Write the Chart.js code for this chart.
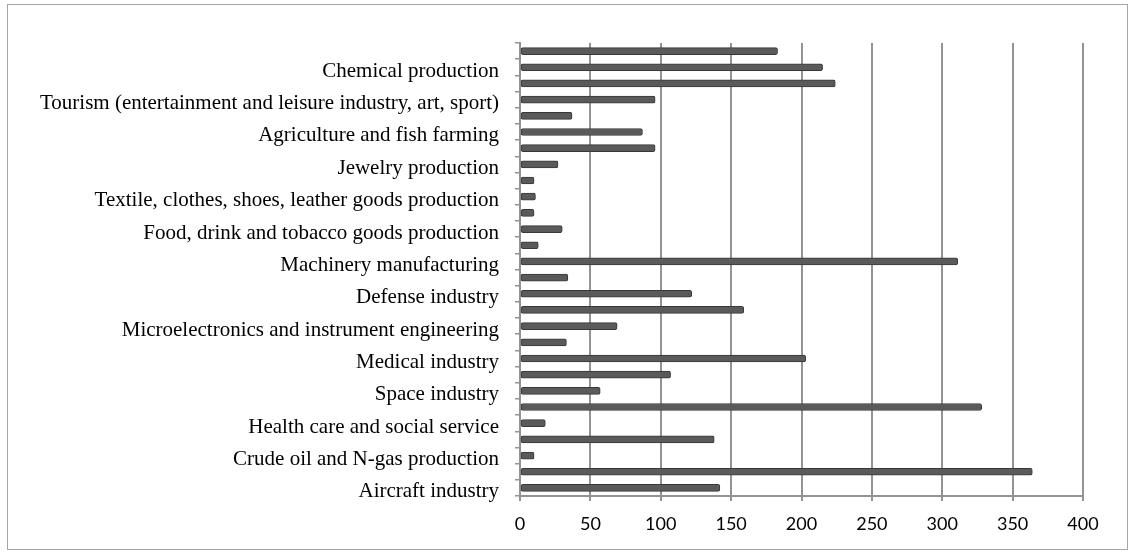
<!DOCTYPE html>
<html>
<head>
<meta charset="utf-8">
<script src="https://cdn.jsdelivr.net/npm/chart.js@4/dist/chart.umd.min.js"></script>
<style>
  html, body { margin: 0; padding: 0; background: #fff; }
  #wrap { position: relative; width: 1131px; height: 556px; }
  #frame { position: absolute; left: 7px; top: 4px; width: 1119px; height: 544px; border: 1px solid #a6a6a6; }
  #chart { position: absolute; left: 0; top: 0; }
</style>
</head>
<body>
<div id="wrap">
  <div id="frame"></div>
  <canvas id="chart" width="1131" height="556"></canvas>
</div>
<script>
// categories, top to bottom (only every other one carries a label)
const categories = [
  "", "Chemical production",
  "", "Tourism (entertainment and leisure industry, art, sport)",
  "", "Agriculture and fish farming",
  "", "Jewelry production",
  "", "Textile, clothes, shoes, leather goods production",
  "", "Food, drink and tobacco goods production",
  "", "Machinery manufacturing",
  "", "Defense industry",
  "", "Microelectronics and instrument engineering",
  "", "Medical industry",
  "", "Space industry",
  "", "Health care and social service",
  "", "Crude oil and N-gas production",
  "", "Aircraft industry"
];

const values = [
  183, 215,
  224, 96,
  37, 87,
  96, 27,
  10, 11,
  10, 30,
  13, 311,
  34, 122,
  159, 69,
  33, 203,
  107, 57,
  328, 18,
  138, 10,
  364, 142
];

const xTicks = [0, 50, 100, 150, 200, 250, 300, 350, 400];

const gridGray = "#939393";

new Chart(document.getElementById("chart").getContext("2d"), {
  type: "bar",
  data: {
    labels: categories,
    datasets: [{
      data: values,
      backgroundColor: "#5a5a5a",
      borderColor: "#383838",
      borderWidth: 1,
      borderRadius: 2,
      borderSkipped: false,
      barThickness: 7
    }]
  },
  options: {
    indexAxis: "y",
    responsive: false,
    devicePixelRatio: 1,
    animation: false,
    layout: { padding: { left: 0, right: 48, top: 43, bottom: 0 } },
    plugins: {
      legend: { display: false },
      tooltip: { enabled: false }
    },
    scales: {
      x: {
        min: xTicks[0],
        max: xTicks[xTicks.length - 1],
        afterBuildTicks: (scale) => { scale.ticks = xTicks.map(v => ({ value: v })); },
        afterFit: (scale) => { scale.height = 60; },
        grid: { color: gridGray, lineWidth: 2, tickLength: 5 },
        border: { color: gridGray, width: 2 },
        ticks: {
          padding: 12,
          color: "#000",
          font: { family: "Lato", size: 18 }
        }
      },
      y: {
        afterFit: (scale) => { scale.width = 520; },
        grid: { drawOnChartArea: false, drawTicks: true, tickLength: 5, offset: true, color: gridGray, lineWidth: 1.5 },
        border: { color: gridGray, width: 2 },
        ticks: {
          autoSkip: false,
          padding: 16,
          labelOffset: 4,
          color: "#000",
          font: { family: "Liberation Serif", size: 21 }
        }
      }
    }
  }
});
</script>
</body>
</html>
